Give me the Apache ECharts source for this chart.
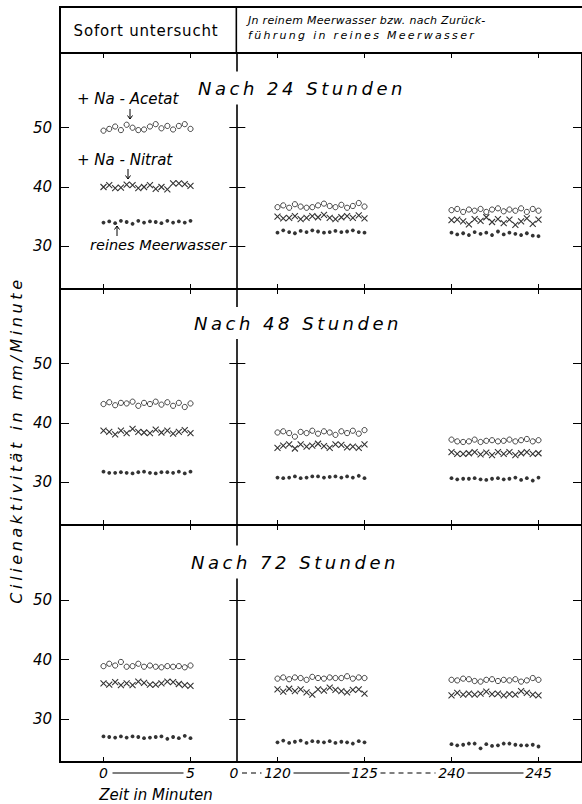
<!DOCTYPE html>
<html>
<head>
<meta charset="utf-8">
<script src="https://cdn.jsdelivr.net/npm/echarts@6/dist/echarts.min.js"></script>
<style>
  html, body { margin: 0; padding: 0; background: #fff; }
  #chart { width: 582px; height: 804px; }
</style>
</head>
<body>
<div id="chart"></div>
<script>
// Sampling instants inside each 5-minute observation window (minutes after window start)
const sampleMinutes = [0, 0.33, 0.67, 1, 1.33, 1.67, 2, 2.33, 2.67, 3, 3.33, 3.67, 4, 4.33, 4.67, 5];
// Observation windows: 0-5, 120-125, 240-245 minutes; drawn on a broken axis
const windowStarts = [0, 120, 240];
const windowAxisBase = [0, 10, 20];

const panelTitles = ['Nach 24 Stunden', 'Nach 48 Stunden', 'Nach 72 Stunden'];
const yTickValues = [30, 40, 50];
const xTickPositions = [0, 5, 10, 15, 20, 25];
const xLabelPositions = [0, 5, 7.5, 10, 15, 20, 25];
const xLabelTexts = ['0', '5', '0', '120', '125', '240', '245'];

// Cilienaktivität (mm/Minute), one row per observation window
const acetat24h = [
  [49.5, 49.8, 50.2, 49.6, 50.5, 50.0, 49.6, 49.7, 50.2, 50.6, 49.9, 50.3, 49.7, 50.3, 50.6, 49.8],
  [36.6, 36.9, 36.5, 37.1, 36.7, 36.5, 36.6, 36.9, 37.2, 36.8, 36.6, 37.0, 36.5, 36.8, 37.3, 36.7],
  [36.1, 36.3, 35.8, 36.2, 36.0, 36.3, 35.8, 36.2, 36.4, 35.9, 36.2, 36.0, 36.4, 35.8, 36.3, 36.0]
];
const nitrat24h = [
  [40.0, 40.3, 39.8, 39.9, 40.4, 40.3, 39.8, 40.0, 40.3, 39.7, 40.0, 39.6, 40.6, 40.6, 40.5, 40.2],
  [35.0, 34.7, 34.8, 35.1, 34.6, 34.8, 35.1, 34.9, 35.3, 34.8, 34.6, 34.9, 35.1, 34.8, 35.2, 34.7],
  [34.4, 34.5, 34.2, 33.7, 34.6, 34.3, 34.9, 34.1, 34.6, 33.9, 34.5, 33.6, 34.2, 34.7, 33.8, 34.5]
];
const meerwasser24h = [
  [34.0, 34.2, 33.9, 34.3, 34.1, 33.8, 34.3, 34.0, 34.2, 34.1, 33.9, 34.3, 34.0, 34.2, 34.0, 34.3],
  [32.3, 32.7, 32.4, 32.2, 32.6, 32.4, 32.7, 32.5, 32.3, 32.4, 32.6, 32.4, 32.5, 32.7, 32.4, 32.3],
  [32.3, 32.0, 32.2, 31.9, 32.4, 32.1, 32.3, 31.9, 32.5, 32.0, 32.3, 32.1, 31.9, 32.2, 31.8, 31.7]
];

const acetat48h = [
  [43.2, 43.5, 43.0, 43.4, 43.3, 43.6, 42.9, 43.4, 43.2, 43.6, 43.1, 43.5, 42.9, 43.4, 42.7, 43.3],
  [38.4, 38.6, 38.3, 37.7, 38.5, 38.3, 38.7, 38.2, 38.6, 38.4, 38.0, 38.6, 38.3, 38.7, 38.2, 38.8],
  [37.2, 36.9, 36.8, 36.9, 37.2, 36.8, 37.0, 37.1, 36.9, 37.0, 37.2, 36.9, 37.1, 37.3, 36.9, 37.1]
];
const nitrat48h = [
  [38.7, 38.5, 38.1, 38.7, 38.3, 39.0, 38.5, 38.4, 38.3, 38.9, 38.4, 38.7, 38.2, 38.5, 38.8, 38.3],
  [35.8, 36.2, 36.4, 35.7, 36.4, 36.0, 36.2, 36.5, 36.1, 35.8, 36.4, 36.3, 35.9, 36.0, 35.8, 36.4],
  [35.1, 34.8, 34.8, 34.9, 35.1, 34.7, 35.0, 34.6, 35.1, 34.8, 35.1, 34.6, 34.9, 35.1, 34.8, 34.9]
];
const meerwasser48h = [
  [31.8, 31.6, 31.6, 31.7, 31.6, 31.5, 31.7, 31.8, 31.6, 31.5, 31.7, 31.7, 31.6, 31.8, 31.5, 31.8],
  [30.8, 30.7, 30.8, 31.0, 30.7, 30.8, 31.0, 31.0, 30.8, 30.9, 31.0, 30.8, 31.0, 30.8, 31.1, 30.7],
  [30.7, 30.5, 30.6, 30.6, 30.7, 30.5, 30.4, 30.6, 30.7, 30.5, 30.6, 30.8, 30.4, 30.7, 30.3, 30.8]
];

const acetat72h = [
  [38.9, 39.3, 39.0, 39.6, 38.8, 38.9, 39.3, 38.8, 39.0, 38.8, 38.7, 38.9, 38.8, 38.9, 38.7, 39.0],
  [36.8, 37.0, 36.7, 37.0, 36.9, 36.6, 37.1, 36.9, 36.8, 37.0, 36.9, 36.9, 37.2, 36.8, 37.0, 36.9],
  [36.6, 36.5, 36.8, 36.7, 36.4, 36.3, 36.6, 36.7, 36.4, 36.6, 36.5, 36.7, 36.3, 36.5, 36.9, 36.6]
];
const nitrat72h = [
  [36.0, 35.8, 36.2, 35.7, 36.0, 35.7, 36.3, 36.1, 35.8, 35.8, 36.0, 36.3, 36.2, 35.9, 35.7, 35.6],
  [35.0, 34.6, 35.1, 34.7, 35.0, 34.5, 34.1, 35.0, 34.8, 35.3, 34.9, 34.7, 34.5, 34.9, 35.0, 34.3],
  [34.0, 34.4, 34.1, 34.3, 34.1, 34.3, 34.6, 34.2, 34.3, 34.0, 34.2, 34.1, 34.7, 34.4, 34.1, 34.0]
];
const meerwasser72h = [
  [27.1, 27.0, 26.9, 27.1, 26.9, 27.1, 27.0, 26.8, 26.9, 27.0, 27.1, 26.7, 27.0, 26.8, 27.2, 26.8],
  [26.1, 26.4, 26.0, 26.2, 26.4, 26.0, 26.3, 26.2, 26.1, 26.3, 26.0, 26.2, 26.1, 25.9, 26.3, 26.1],
  [25.8, 25.6, 25.7, 25.9, 25.9, 25.1, 25.8, 25.5, 25.6, 25.9, 25.9, 25.7, 25.6, 25.6, 25.7, 25.4]
];

const panelData = [
  { acetat: acetat24h, nitrat: nitrat24h, meerwasser: meerwasser24h },
  { acetat: acetat48h, nitrat: nitrat48h, meerwasser: meerwasser48h },
  { acetat: acetat72h, nitrat: nitrat72h, meerwasser: meerwasser72h }
];

// ---- layout ----
const FONT = 'DejaVu Sans';
const frameLeft = 60, frameWidth = 529;
const headerTop = 7, headerBottom = 53;
const panelTops = [53, 289, 525];
const panelHeights = [236, 236, 237];
const yMin = 22.8, yMax = 62.6;
const xMin = -2.5, xMax = 27.5;
const dividerAt = 7.5;
const dividerOffset = -((dividerAt - xMin) / (xMax - xMin)) * frameWidth;

const chart = echarts.init(document.getElementById('chart'), null, { renderer: 'svg' });

function toPoints(rows) {
  const pts = [];
  rows.forEach((row, w) => {
    row.forEach((v, i) => pts.push([windowAxisBase[w] + sampleMinutes[i], v]));
  });
  return pts;
}

const grids = [], xAxes = [], yAxes = [], series = [];
const tickLine = { color: '#000', width: 1 };
const noLine = { show: false, onZero: false };

panelTops.forEach((top, g) => {
  grids.push({
    left: frameLeft, top: top, width: frameWidth, height: panelHeights[g],
    show: true, borderColor: '#000', borderWidth: 2, backgroundColor: 'transparent'
  });
  // bottom axis (labels only on the lowest panel)
  xAxes.push({
    gridIndex: g, type: 'value', min: xMin, max: xMax, position: 'bottom',
    axisLine: noLine, splitLine: { show: false },
    axisTick: { show: true, inside: true, length: 5, customValues: xTickPositions, lineStyle: tickLine },
    axisLabel: g === 2 ? {
      show: true, customValues: xLabelPositions, margin: 4,
      formatter: v => xLabelTexts[xLabelPositions.indexOf(v)],
      color: '#000', fontFamily: FONT, fontStyle: 'italic', fontSize: 14
    } : { show: false }
  });
  // top axis
  xAxes.push({
    gridIndex: g, type: 'value', min: xMin, max: xMax, position: 'top',
    axisLine: noLine, splitLine: { show: false }, axisLabel: { show: false },
    axisTick: { show: true, inside: true, length: 5, customValues: xTickPositions, lineStyle: tickLine }
  });
  // left value axis
  yAxes.push({
    gridIndex: g, type: 'value', min: yMin, max: yMax, position: 'left',
    axisLine: noLine, splitLine: { show: false },
    axisTick: { show: true, inside: true, length: 9, customValues: yTickValues, lineStyle: tickLine },
    axisLabel: { show: true, customValues: yTickValues, margin: 8, color: '#000',
      fontFamily: FONT, fontStyle: 'italic', fontSize: 15 }
  });
  // right edge
  yAxes.push({
    gridIndex: g, type: 'value', min: yMin, max: yMax, position: 'right',
    axisLine: noLine, splitLine: { show: false }, axisLabel: { show: false },
    axisTick: { show: true, inside: true, length: 9, customValues: yTickValues, lineStyle: tickLine }
  });
  // divider between "sofort" and later windows, ticks on both sides
  yAxes.push({
    gridIndex: g, type: 'value', min: yMin, max: yMax, position: 'left', offset: dividerOffset,
    axisLine: { show: true, onZero: false, lineStyle: { color: '#000', width: 1.6 } },
    splitLine: { show: false }, axisLabel: { show: false },
    axisTick: { show: true, inside: false, length: 7, customValues: yTickValues, lineStyle: tickLine }
  });
  yAxes.push({
    gridIndex: g, type: 'value', min: yMin, max: yMax, position: 'left', offset: dividerOffset,
    axisLine: noLine, splitLine: { show: false }, axisLabel: { show: false },
    axisTick: { show: true, inside: true, length: 9, customValues: yTickValues, lineStyle: tickLine }
  });

  const d = panelData[g];
  series.push({
    type: 'scatter', name: '+ Na-Acetat', xAxisIndex: g * 2, yAxisIndex: g * 4,
    data: toPoints(d.acetat), symbol: 'circle', symbolSize: 5.2,
    itemStyle: { color: '#fff', borderColor: '#000', borderWidth: 0.9 }, silent: true, z: 5
  });
  series.push({
    type: 'scatter', name: '+ Na-Nitrat', xAxisIndex: g * 2, yAxisIndex: g * 4,
    data: toPoints(d.nitrat), symbol: 'path://M0,0L10,10M10,0L0,10', symbolSize: 6,
    itemStyle: { color: 'none', borderColor: '#000', borderWidth: 1.1 }, silent: true, z: 5
  });
  series.push({
    type: 'scatter', name: 'reines Meerwasser', xAxisIndex: g * 2, yAxisIndex: g * 4,
    data: toPoints(d.meerwasser), symbol: 'circle', symbolSize: 3.8,
    itemStyle: { color: '#000' }, silent: true, z: 5
  });
});

function txt(text, x, y, size, opts) {
  return Object.assign({
    type: 'text', x: x, y: y, z: 100, silent: true,
    style: Object.assign({
      text: text, fill: '#000', align: 'center', verticalAlign: 'middle',
      font: (opts && opts.upright ? 'normal' : 'italic') + ' ' + size + 'px "' + FONT + '"'
    }, opts && opts.style)
  }, opts && opts.el);
}

// small annotation arrows (shaft + head)
function arrow(x, yFrom, yTo) {
  const dir = yTo > yFrom ? 1 : -1;
  return [
    { type: 'line', z: 60, silent: true,
      shape: { x1: x, y1: yFrom, x2: x, y2: yTo },
      style: { stroke: '#000', lineWidth: 1 } },
    { type: 'polyline', z: 60, silent: true,
      shape: { points: [[x - 2.5, yTo - dir * 3.5], [x, yTo], [x + 2.5, yTo - dir * 3.5]] },
      style: { stroke: '#000', lineWidth: 1, fill: 'none' } }
  ];
}

const titleCenters = [[302, 88], [298, 323], [295, 562]];
const titlePads = [[10, 8, 5, 8], [8, 8, 6, 8], [11, 8, 4, 8]];

const graphics = [
  // header box
  { type: 'rect', z: 50, silent: true,
    shape: { x: frameLeft, y: headerTop, width: frameWidth, height: headerBottom - headerTop },
    style: { fill: 'none', stroke: '#000', lineWidth: 2 } },
  { type: 'line', z: 50, silent: true,
    shape: { x1: frameLeft - dividerOffset, y1: headerTop, x2: frameLeft - dividerOffset, y2: headerBottom },
    style: { stroke: '#000', lineWidth: 1.6 } },
  txt('Sofort untersucht', 146, 31, 15, { upright: true }),
  txt('Jn reinem Meerwasser bzw. nach Zurück-', 248, 20, 11, { style: { align: 'left' } }),
  txt('führung in reines Meerwasser', 248, 35, 11, { style: { align: 'left' } }),
  // annotations in the first panel
  txt('+ Na - Acetat', 77, 99, 15, { style: { align: 'left' } }),
  txt('+ Na - Nitrat', 77, 160, 15, { style: { align: 'left' } }),
  txt('reines Meerwasser', 90, 245, 14.5, { style: { align: 'left' } }),
  // axis titles
  txt('Cilienaktivität in mm/Minute', 16, 440, 16, { el: { rotation: Math.PI / 2 } }),
  txt('Zeit in Minuten', 156, 795, 15)
].concat(arrow(130, 109, 119), arrow(128, 169, 179), arrow(117, 236, 226));

panelTitles.forEach((t, i) => {
  graphics.push(txt(t, titleCenters[i][0], titleCenters[i][1], 18, {
    style: { backgroundColor: '#fff', padding: titlePads[i] }
  }));
});

chart.setOption({
  animation: false,
  backgroundColor: '#fff',
  grid: grids, xAxis: xAxes, yAxis: yAxes, series: series,
  graphic: graphics
});

// connecting strokes between the bottom tick labels
const px = v => chart.convertToPixel({ xAxisIndex: 4 }, v);
const labelY = 773;
const connectors = [
  [0, 9, 5, -7, false],
  [7.5, 8, 10, -16, true],
  [10, 16, 15, -15, false],
  [15, 16, 20, -16, true],
  [20, 16, 25, -15, false]
].map(([a, da, b, db, dashed]) => ({
  type: 'line', z: 50, silent: true,
  shape: { x1: px(a) + da, y1: labelY, x2: px(b) + db, y2: labelY },
  style: { stroke: '#000', lineWidth: 1.1, lineDash: dashed ? [5, 4] : null }
}));
chart.setOption({ graphic: graphics.concat(connectors) });

// stencil lettering is widely spaced
const spacing = {
  'Nach 24 Stunden': 3.5, 'Nach 48 Stunden': 3.5, 'Nach 72 Stunden': 3.5,
  'Cilienaktivität in mm/Minute': 3.6,
  'führung in reines Meerwasser': 2.3,
  'Jn reinem Meerwasser bzw. nach Zurück-': 0.3,
  'Sofort untersucht': 0.8
};
function applySpacing() {
  document.querySelectorAll('#chart text').forEach(el => {
    const s = spacing[el.textContent];
    if (s) el.setAttribute('letter-spacing', s);
  });
}
chart.on('finished', applySpacing);
applySpacing();
setTimeout(applySpacing, 50);
</script>
</body>
</html>
